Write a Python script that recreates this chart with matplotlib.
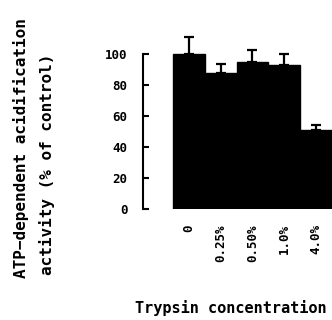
import matplotlib
matplotlib.use("Agg")
import matplotlib.pyplot as plt
import numpy as np

categories = ["0", "0.25%", "0.50%", "1.0%", "4.0%"]
values = [100, 88, 95, 93, 51]
errors = [11, 6, 8, 7, 3]
yticks = [0, 20, 40, 60, 80, 100]

plt.rcParams['font.family'] = 'DejaVu Sans Mono'
plt.rcParams['font.weight'] = 'bold'

fig = plt.figure(figsize=(3.32, 3.2), dpi=100)
# axes placed so that y=0 sits at 209 px and y=100 at 54 px
ax = fig.add_axes([143/332, 111/320, 189/332, 178/320])

x = np.arange(len(categories))
ax.bar(x, values, width=1.0, color="black", edgecolor="black")
ax.errorbar(x, values, yerr=[np.zeros(len(errors)), errors], fmt="none",
            ecolor="black", elinewidth=1.6, capsize=3.5, capthick=1.6, clip_on=False)

ax.set_xlim(-1.44, 4.5)
ax.set_ylim(0, 115)
for s in ["top", "right", "bottom"]:
    ax.spines[s].set_visible(False)
ax.spines["left"].set_bounds(0, 100)
ax.spines["left"].set_linewidth(1.5)

ax.set_yticks(yticks)
ax.set_yticklabels([str(v) for v in yticks], fontsize=9, fontweight="bold")
ax.tick_params(axis="y", direction="in", length=4, width=1.5, pad=11)

ax.set_xticks(x)
ax.set_xticklabels(categories, rotation=90, fontsize=9, fontweight="bold", va="top")
ax.tick_params(axis="x", length=0, pad=11)

fig.text(231/332, 7/320, "Trypsin concentration", ha="center", va="baseline",
         fontsize=11, fontweight="bold")
fig.text(21/332, 42/320, "ATP\u2212dependent acidification", rotation=90,
         ha="center", va="bottom", fontsize=11.5, fontweight="bold")
fig.text(47/332, 45/320, "activity (% of control)", rotation=90,
         ha="center", va="bottom", fontsize=11.5, fontweight="bold")

fig.savefig("out.png", dpi=100)
